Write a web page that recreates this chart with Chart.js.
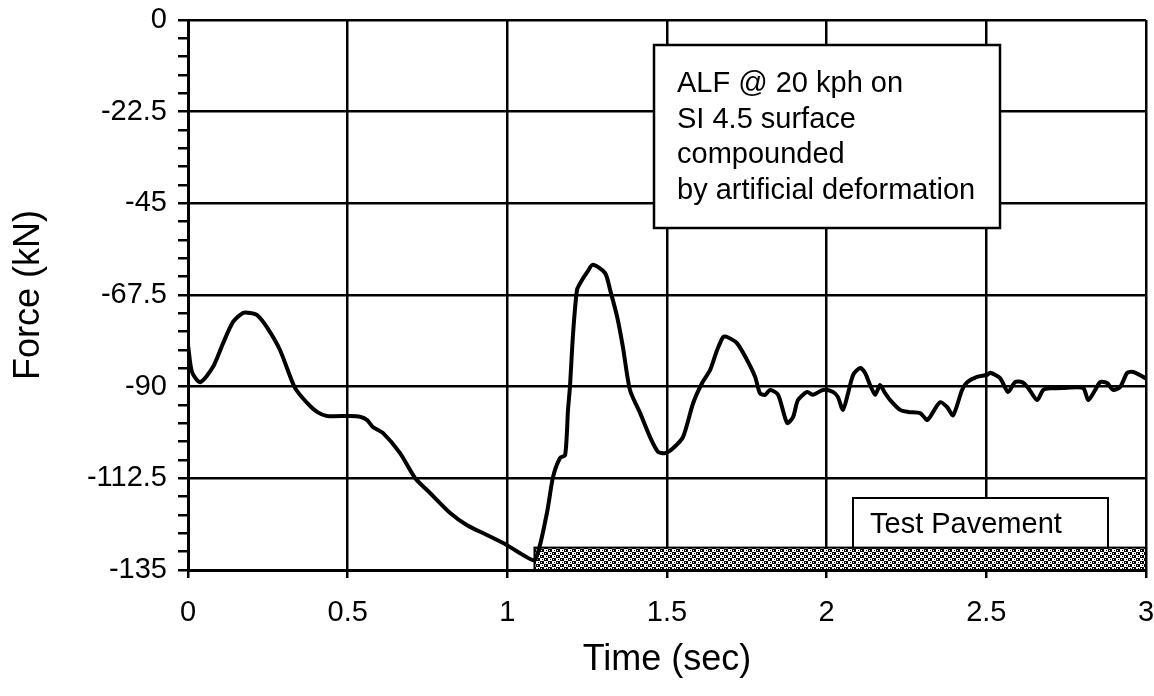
<!DOCTYPE html>
<html>
<head>
<meta charset="utf-8">
<script src="https://cdn.jsdelivr.net/npm/chart.js@4.4.1/dist/chart.umd.min.js"></script>
<style>
  html, body { margin: 0; padding: 0; background: #fff; }
  #wrap { width: 1154px; height: 696px; position: relative; }
</style>
</head>
<body>
<div id="wrap"><canvas id="c" width="1154" height="696"></canvas></div>
<script>
// ---- data ----
const timeSec = [0, 0.0125, 0.038, 0.078, 0.110, 0.141, 0.172, 0.194, 0.216, 0.247, 0.288, 0.335, 0.373, 0.404, 0.435, 0.507, 0.539, 0.561, 0.579, 0.611, 0.664, 0.711, 0.758, 0.821, 0.874, 0.936, 0.999, 1.049, 1.087, 1.124, 1.143, 1.165, 1.181, 1.190, 1.196, 1.206, 1.218, 1.228, 1.250, 1.268, 1.306, 1.322, 1.344, 1.362, 1.384, 1.416, 1.447, 1.472, 1.494, 1.519, 1.550, 1.582, 1.610, 1.635, 1.657, 1.676, 1.688, 1.719, 1.751, 1.776, 1.791, 1.807, 1.823, 1.848, 1.876, 1.895, 1.910, 1.939, 1.957, 1.989, 2.020, 2.035, 2.051, 2.067, 2.083, 2.105, 2.120, 2.136, 2.152, 2.167, 2.183, 2.199, 2.230, 2.255, 2.293, 2.314, 2.324, 2.355, 2.377, 2.396, 2.424, 2.440, 2.471, 2.502, 2.512, 2.543, 2.568, 2.590, 2.612, 2.631, 2.659, 2.678, 2.700, 2.747, 2.803, 2.819, 2.841, 2.856, 2.878, 2.897, 2.919, 2.941, 2.960, 2.991, 3.0];
const forceKN = [-79.8, -86.4, -88.9, -85.2, -79.3, -74.1, -71.9, -71.9, -72.4, -75.4, -81.0, -90.3, -94.0, -96.2, -97.2, -97.2, -97.4, -98.2, -99.9, -101.4, -106.3, -112.4, -116.1, -121.0, -124.0, -126.4, -128.9, -131.3, -132.5, -121.0, -112.2, -107.5, -106.8, -95.7, -90.1, -76.8, -66.3, -64.6, -61.9, -60.1, -62.1, -66.3, -72.9, -80.3, -90.8, -96.5, -102.4, -106.0, -106.3, -105.1, -102.4, -94.0, -89.1, -85.9, -81.0, -77.8, -77.8, -79.3, -83.5, -87.6, -91.6, -92.0, -90.8, -92.0, -98.9, -97.4, -93.3, -91.3, -92.0, -90.8, -91.3, -92.5, -95.7, -91.6, -87.1, -85.4, -86.6, -89.6, -92.0, -89.6, -91.6, -93.3, -95.7, -96.2, -96.5, -98.2, -97.4, -93.8, -95.0, -97.0, -90.8, -88.9, -87.6, -87.1, -86.6, -87.9, -91.3, -88.9, -88.9, -90.3, -93.3, -90.8, -90.4, -90.3, -90.3, -93.3, -90.8, -88.9, -89.1, -90.8, -90.1, -86.6, -86.4, -87.6, -88.0];

const xTickLabels = ['0', '0.5', '1', '1.5', '2', '2.5', '3'];
const yTickValues = [0, -22.5, -45, -67.5, -90, -112.5, -135];
const yTickLabels = ['0', '-22.5', '-45', '-67.5', '-90', '-112.5', '-135'];

// test pavement strip (time range, force top)
const pavementTime = [1.085, 3.0];
const pavementTop = -129.5;

const annotationLines = ['ALF @ 20 kph on', 'SI 4.5 surface', 'compounded', 'by artificial deformation'];
const pavementLabel = 'Test Pavement';

// ---- helpers ----
const FONT = '"Liberation Sans", Arial, Helvetica, sans-serif';

function makePattern(ctx) {
  const t = document.createElement('canvas');
  t.width = 8; t.height = 6;
  const c = t.getContext('2d');
  c.fillStyle = '#fff';
  c.fillRect(0, 0, 8, 6);
  c.fillStyle = '#000';
  c.fillRect(0, 0, 4, 3);
  c.fillRect(4, 3, 4, 3);
  c.fillStyle = '#fff';
  c.fillRect(1, 1, 1, 1);
  c.fillRect(5, 4, 1, 1);
  c.fillStyle = '#000';
  c.fillRect(6, 1, 1, 1);
  c.fillRect(2, 4, 1, 1);
  return ctx.createPattern(t, 'repeat');
}

const isMajorY = v => Math.round(v / 4.5) % 5 === 0;

const overlay = {
  id: 'overlay',
  beforeDatasetsDraw(chart) {
    const ctx = chart.ctx;
    const xs = chart.scales.x, ys = chart.scales.y;
    ctx.save();
    // pavement strip
    const px0 = xs.getPixelForValue(pavementTime[0]);
    const px1 = xs.getPixelForValue(pavementTime[1]);
    const py0 = ys.getPixelForValue(pavementTop);
    const py1 = ys.getPixelForValue(ys.min);
    ctx.fillStyle = makePattern(ctx);
    ctx.fillRect(px0, py0, px1 - px0, py1 - py0);
    ctx.lineWidth = 2;
    ctx.strokeStyle = '#000';
    ctx.strokeRect(px0, py0, px1 - px0, py1 - py0);

    // Test Pavement label box
    const bx0 = 853, bx1 = 1108, by0 = 498, by1 = py0;
    ctx.fillStyle = '#fff';
    ctx.fillRect(bx0, by0, bx1 - bx0, by1 - by0);
    ctx.lineWidth = 2;
    ctx.strokeRect(bx0, by0, bx1 - bx0, by1 - by0);
    ctx.fillStyle = '#000';
    ctx.font = '29px ' + FONT;
    ctx.textBaseline = 'alphabetic';
    ctx.textAlign = 'left';
    ctx.fillText(pavementLabel, 870, 533);

    // annotation box
    const ax0 = 654, ax1 = 1000, ay0 = 45, ay1 = 228;
    ctx.fillStyle = '#fff';
    ctx.fillRect(ax0, ay0, ax1 - ax0, ay1 - ay0);
    ctx.lineWidth = 2.5;
    ctx.strokeRect(ax0, ay0, ax1 - ax0, ay1 - ay0);
    ctx.fillStyle = '#000';
    ctx.font = '29px ' + FONT;
    annotationLines.forEach((s, i) => ctx.fillText(s, 677, 92 + i * 35.5));
    ctx.restore();
  }
};

new Chart(document.getElementById('c'), {
  type: 'line',
  data: {
    datasets: [{
      data: timeSec.map((t, i) => ({ x: t, y: forceKN[i] })),
      borderColor: '#000',
      borderWidth: 4,
      pointRadius: 0,
      tension: 0.25,
      fill: false
    }]
  },
  options: {
    responsive: false,
    animation: false,
    events: [],
    layout: { padding: { left: 7, right: 8, top: 20, bottom: 14 } },
    plugins: { legend: { display: false }, tooltip: { enabled: false } },
    scales: {
      x: {
        type: 'linear',
        min: 0, max: 3,
        afterFit: s => { s.height = 112; s.paddingLeft = 0; s.paddingRight = 0; s.paddingTop = 0; s.paddingBottom = 0; },
        ticks: {
          stepSize: 0.5,
          color: '#000',
          font: { family: FONT, size: 29 },
          padding: 18,
          maxRotation: 0,
          callback: (v) => { const i = Math.round(v / 0.5); return xTickLabels[i] !== undefined ? xTickLabels[i] : ''; }
        },
        grid: { color: '#000', lineWidth: 2.5, tickLength: 8, tickColor: '#000' },
        border: { color: '#000', width: 3 },
        title: { display: true, text: 'Time (sec)', color: '#000', font: { family: FONT, size: 36 }, padding: 0 }
      },
      y: {
        type: 'linear',
        min: -135, max: 0,
        afterFit: s => { s.width = 181; s.paddingTop = 0; s.paddingBottom = 0; s.paddingLeft = 0; s.paddingRight = 0; },
        afterBuildTicks: s => {
          const arr = [];
          for (let k = 0; k <= 30; k++) arr.push({ value: -135 + k * 4.5 });
          s.ticks = arr;
        },
        ticks: {
          color: '#000',
          font: { family: FONT, size: 29 },
          padding: 11,
          autoSkip: false,
          callback: (v) => {
            if (!isMajorY(v)) return '';
            const i = yTickValues.findIndex(t => Math.abs(t - v) < 1e-6);
            return i >= 0 ? yTickLabels[i] : '';
          }
        },
        grid: {
          color: c => (c.tick && isMajorY(c.tick.value)) ? '#000' : 'rgba(0,0,0,0)',
          tickColor: '#000',
          lineWidth: 2.5,
          tickLength: 10
        },
        border: { color: '#000', width: 3 },
        title: { display: true, text: 'Force (kN)', color: '#000', font: { family: FONT, size: 36 }, padding: 0 }
      }
    }
  },
  plugins: [overlay]
});
</script>
</body>
</html>
